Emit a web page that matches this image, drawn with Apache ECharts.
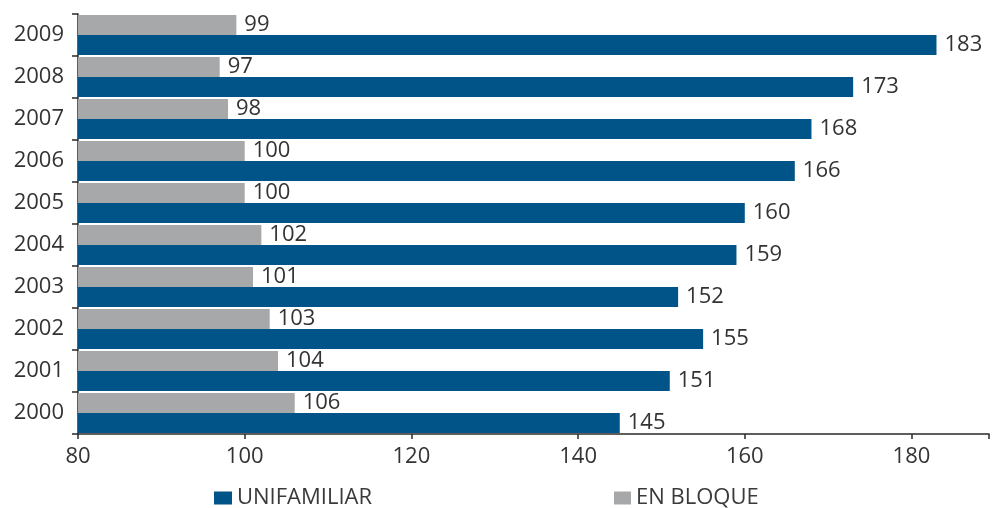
<!DOCTYPE html>
<html>
<head>
<meta charset="utf-8">
<script src="https://cdn.jsdelivr.net/npm/echarts@6/dist/echarts.min.js"></script>
<style>html,body{margin:0;padding:0;background:#fff;}#c{width:992px;height:508px;}</style>
</head>
<body>
<div id="c"></div>
<script>
var years = ['2000','2001','2002','2003','2004','2005','2006','2007','2008','2009'];
var unifamiliar = [145,151,155,152,159,160,166,168,173,183];
var enBloque = [106,104,103,101,102,100,100,98,97,99];
var xTicks = [80,100,120,140,160,180];

var FONT = 'Open Sans';
var chart = echarts.init(document.getElementById('c'));
chart.setOption({
  animation: false,
  backgroundColor: '#ffffff',
  textStyle: {fontFamily: FONT},
  grid: {left: 78, right: 1, top: 14, bottom: 74, containLabel: false},
  legend: [
    {data: ['UNIFAMILIAR'], left: 209, top: 482, itemWidth: 18, itemHeight: 13, itemGap: 10,
     icon: 'rect', textStyle: {fontFamily: FONT, fontSize: 22, color: '#3a3a3a'}},
    {data: ['EN BLOQUE'], left: 609, top: 482, itemWidth: 17, itemHeight: 13, itemGap: 10,
     icon: 'rect', textStyle: {fontFamily: FONT, fontSize: 22, color: '#3a3a3a'}}
  ],
  xAxis: {
    type: 'value', min: xTicks[0], max: 189.3, interval: 20,
    splitLine: {show: false},
    axisLine: {show: true, lineStyle: {color: '#2a2a2a', width: 1.5}},
    axisTick: {show: true, length: 5, lineStyle: {color: '#2a2a2a', width: 1.5}},
    axisLabel: {fontFamily: FONT, fontSize: 22, color: '#333', margin: 12,
      formatter: function(v){ return xTicks.indexOf(v) >= 0 ? String(v) : ''; }}
  },
  yAxis: {
    type: 'category', data: years,
    axisLine: {show: true, lineStyle: {color: '#2a2a2a', width: 1.5}},
    axisTick: {show: true, length: 6, lineStyle: {color: '#2a2a2a', width: 1.5}},
    axisLabel: {fontFamily: FONT, fontSize: 22, color: '#333', margin: 14}
  },
  series: [
    {name: 'EN BLOQUE', type: 'bar', data: enBloque, barGap: '0%', barCategoryGap: '5%',
     itemStyle: {color: '#a7a8aa'},
     label: {show: true, position: 'right', distance: 8, fontFamily: FONT, fontSize: 22, color: '#333'}},
    {name: 'UNIFAMILIAR', type: 'bar', data: unifamiliar, barGap: '0%', barCategoryGap: '5%',
     itemStyle: {color: '#005488'},
     label: {show: true, position: 'right', distance: 8, fontFamily: FONT, fontSize: 22, color: '#333'}}
  ]
});
</script>
</body>
</html>
